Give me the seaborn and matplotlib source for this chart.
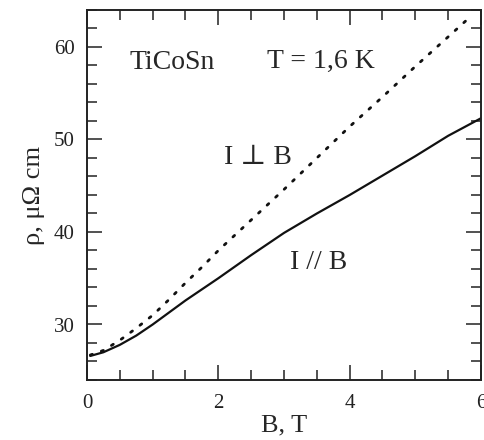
import numpy as np
import pandas as pd
import matplotlib
matplotlib.use("Agg")
import matplotlib.pyplot as plt
from matplotlib.ticker import MultipleLocator
import seaborn as sns

# Data
B_par = [0.05, 0.25, 0.5, 0.75, 1.0, 1.25, 1.5, 1.75, 2.0, 2.5, 3.0, 3.5, 4.0, 4.5, 5.0, 5.5, 6.0]
rho_par = [26.6, 27.0, 27.8, 28.8, 30.0, 31.3, 32.6, 33.8, 35.0, 37.5, 39.9, 42.0, 44.0, 46.1, 48.2, 50.4, 52.3]

B_perp = [0.05, 0.25, 0.5, 0.75, 1.0, 1.25, 1.5, 1.75, 2.0, 2.5, 3.0, 3.5, 4.0, 4.5, 5.0, 5.5, 5.78]
rho_perp = [26.7, 27.2, 28.3, 29.6, 31.0, 32.7, 34.5, 36.2, 38.0, 41.3, 44.6, 48.0, 51.4, 54.6, 57.9, 61.1, 62.9]

x_ticks = [0, 2, 4, 6]
y_ticks = [30, 40, 50, 60]

sns.set_style("ticks")
fam = ["Liberation Serif", "DejaVu Serif"]
plt.rcParams["font.family"] = fam

df_par = pd.DataFrame({"B": B_par, "rho": rho_par})
df_perp = pd.DataFrame({"B": B_perp, "rho": rho_perp})

fig = plt.figure(figsize=(4.85, 4.40), dpi=100)
ax = fig.add_axes([87 / 485, 1 - 380 / 440, (481 - 87) / 485, (380 - 10) / 440])

sns.lineplot(data=df_par, x="B", y="rho", ax=ax, color="#111111", lw=1.6)
sns.lineplot(data=df_perp, x="B", y="rho", ax=ax, color="#111111", lw=2.0,
             linestyle=(0, (0.8, 3.4)), dash_capstyle="round")

ax.set_xlim(0, 6)
ax.set_ylim(24, 64)
ax.set_xticks(x_ticks)
ax.set_yticks(y_ticks)
ax.xaxis.set_minor_locator(MultipleLocator(0.5))
ax.yaxis.set_minor_locator(MultipleLocator(2))
ax.tick_params(which="both", direction="in", top=True, right=True, colors="#222222",
               labelsize=15, width=1.1)
ax.tick_params(axis="x", which="major", pad=10)
ax.tick_params(axis="y", which="major", pad=9)
ax.tick_params(which="major", length=11)
ax.tick_params(which="minor", length=7)
for s in ax.spines.values():
    s.set_linewidth(1.4)
    s.set_color("#222222")

ax.set_xlabel("B, T", fontsize=19, labelpad=1)
ax.set_ylabel("ρ, μΩ cm", fontsize=19, labelpad=6)

ax.text(1.3, 58.3, "TiCoSn", fontsize=20, family=fam, va="center", ha="center")
ax.text(3.56, 58.4, "T = 1,6 K", fontsize=20, family=fam, va="center", ha="center")
ax.text(2.6, 48.1, "I ⊥ B", fontsize=20, family=fam, va="center", ha="center")
ax.text(3.52, 36.7, "I // B", fontsize=20, family=fam, va="center", ha="center")

fig.savefig("out.png", dpi=100)
